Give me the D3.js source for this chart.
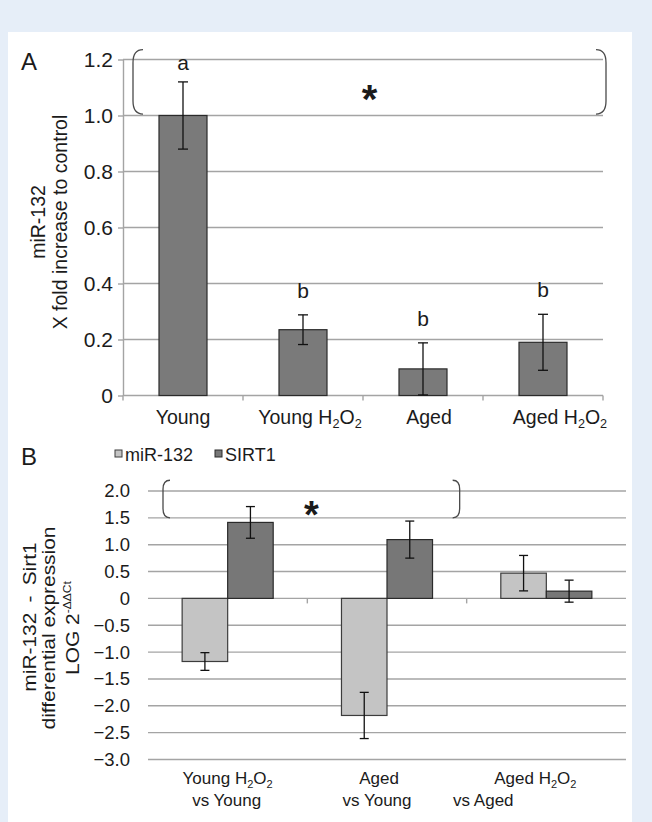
<!DOCTYPE html>
<html>
<head>
<meta charset="utf-8">
<script src="https://cdn.jsdelivr.net/npm/d3@7"></script>
<style>
	html, body { margin: 0; padding: 0; background: #e6eef8; }
	svg { display: block; }
	text { font-family: "Liberation Sans", Arial, sans-serif; fill: #1b1b1b; }
</style>
</head>
<body>
<svg id="fig" width="652" height="822"></svg>
<script>
// panel A
var catsA = ["Young", "Young H2O2", "Aged", "Aged H2O2"];
var meanA = [1.0, 0.235, 0.095, 0.19];
var errA = [0.12, 0.053, 0.093, 0.10];
var lettersA = ["a", "b", "b", "b"];
var ticksA = [0, 0.2, 0.4, 0.6, 0.8, 1.0, 1.2];

// panel B
var seriesB = ["miR-132", "SIRT1"];
var catsB = [["Young H2O2", "vs Young"], ["Aged", "vs Young"], ["Aged H2O2", "vs Aged"]];
var mirB = [-1.175, -2.18, 0.47];
var mirErrB = [0.165, 0.43, 0.33];
var sirtB = [1.415, 1.095, 0.135];
var sirtErrB = [0.295, 0.345, 0.205];
var ticksB = [-3, -2.5, -2, -1.5, -1, -0.5, 0, 0.5, 1, 1.5, 2];

var gridCol = "#a4a4a4";
var labelNudgeA = [0, 7, 6, 17];
var labelNudgeB = [[0, -1], [-8, -10], [-11, -63]];

var svg = d3.select("#fig");
svg.append("rect")
	.attr("x", 8).attr("y", 32)
	.attr("width", 624).attr("height", 790)
	.attr("fill", "#fff");

// digits after H / O become subscripts
var addRich = function(textSel, str, size) {
	var runs = [], cur = null;
	for (var i = 0; i < str.length; i++) {
		var sub = /\d/.test(str[i]) && i > 0 && /[HO]/.test(str[i - 1]);
		if (!cur || cur.sub !== sub) { cur = {sub: sub, t: ""}; runs.push(cur); }
		cur.t += str[i];
	}
	var shift = 0;
	runs.forEach(function(r) {
		var ts = textSel.append("tspan").text(r.t);
		if (r.sub) {
			shift = size * 0.22;
			ts.attr("font-size", size * 0.65).attr("dy", shift);
		} else if (shift) {
			ts.attr("dy", -shift);
			shift = 0;
		}
	});
};

var bracket = function(g, x0, x1, yTop, yBot, rx, ry) {
	var p = "M" + (x0 + rx) + "," + yTop + " Q" + x0 + "," + yTop + " " + x0 + "," + (yTop + ry)
		+ " L" + x0 + "," + (yBot - ry) + " Q" + x0 + "," + yBot + " " + (x0 + rx) + "," + yBot
		+ " M" + (x1 - rx) + "," + yTop + " Q" + x1 + "," + yTop + " " + x1 + "," + (yTop + ry)
		+ " L" + x1 + "," + (yBot - ry) + " Q" + x1 + "," + yBot + " " + (x1 - rx) + "," + yBot;
	g.append("path").attr("d", p)
		.attr("fill", "none").attr("stroke", "#4a4a4a").attr("stroke-width", 1.3);
};

var errBars = function(g, xs, means, errs, y, cap) {
	var eb = g.selectAll(null).data(means).enter().append("g");
	eb.append("line")
		.attr("x1", function(d, i) { return xs[i]; })
		.attr("x2", function(d, i) { return xs[i]; })
		.attr("y1", function(d, i) { return y(d - errs[i]); })
		.attr("y2", function(d, i) { return y(d + errs[i]); });
	eb.append("line")
		.attr("x1", function(d, i) { return xs[i] - cap; })
		.attr("x2", function(d, i) { return xs[i] + cap; })
		.attr("y1", function(d, i) { return y(d + errs[i]); })
		.attr("y2", function(d, i) { return y(d + errs[i]); });
	eb.append("line")
		.attr("x1", function(d, i) { return xs[i] - cap; })
		.attr("x2", function(d, i) { return xs[i] + cap; })
		.attr("y1", function(d, i) { return y(d - errs[i]); })
		.attr("y2", function(d, i) { return y(d - errs[i]); });
	eb.selectAll("line").attr("stroke", "#111").attr("stroke-width", 1.3);
};

// ---------- panel A ----------
var xA = d3.scaleBand().domain(catsA).range([123, 603]).paddingInner(0.6).paddingOuter(0.3);
var yA = d3.scaleLinear().domain([0, 1.2]).range([395.5, 59.5]);
var gA = svg.append("g");

gA.selectAll(".gridA")
	.data(ticksA)
	.enter()
	.append("line")
	.attr("x1", 123).attr("x2", 603)
	.attr("y1", function(d) { return yA(d); })
	.attr("y2", function(d) { return yA(d); })
	.attr("stroke", gridCol).attr("stroke-width", 1.4);

var axA = gA.append("g")
	.attr("transform", "translate(123,0)")
	.call(d3.axisLeft(yA).tickValues(ticksA).tickSizeInner(5).tickSizeOuter(0).tickPadding(5)
		.tickFormat(function(d) { return d === 0 ? "0" : d3.format(".1f")(d); }));
axA.select(".domain").attr("stroke", gridCol).attr("stroke-width", 1.4);
axA.selectAll(".tick line").attr("stroke", gridCol).attr("stroke-width", 1.4);
axA.selectAll(".tick text").attr("font-size", 21).attr("fill", "#1b1b1b")
	.attr("font-family", "Liberation Sans, Arial, sans-serif");

// small ticks on the category axis, at band edges
var edgeA = catsA.map(function(c) { return xA(c) - (xA.step() - xA.bandwidth()) / 2; });
edgeA.push(603);
gA.selectAll(".edgeA")
	.data(edgeA)
	.enter()
	.append("line")
	.attr("x1", function(d) { return d; }).attr("x2", function(d) { return d; })
	.attr("y1", yA(0)).attr("y2", yA(0) + 5)
	.attr("stroke", gridCol).attr("stroke-width", 1.4);

gA.selectAll(".barA")
	.data(meanA)
	.enter()
	.append("rect")
	.attr("x", function(d, i) { return xA(catsA[i]); })
	.attr("y", function(d) { return yA(d); })
	.attr("width", xA.bandwidth())
	.attr("height", function(d) { return yA(0) - yA(d); })
	.attr("fill", "#7a7a7a")
	.attr("stroke", "#2a2a2a").attr("stroke-width", 1.2);

var cxA = catsA.map(function(c) { return xA(c) + xA.bandwidth() / 2; });
errBars(gA, cxA, meanA, errA, yA, 5);

gA.selectAll(".letterA")
	.data(lettersA)
	.enter()
	.append("text")
	.attr("x", function(d, i) { return cxA[i]; })
	.attr("y", function(d, i) { return Math.max(yA(meanA[i] + errA[i]) - 17, yA(1.2) + 10); })
	.attr("text-anchor", "middle")
	.attr("font-size", 21)
	.text(function(d) { return d; });

catsA.forEach(function(c, i) {
	var t = gA.append("text")
		.attr("x", cxA[i] + labelNudgeA[i])
		.attr("y", 424)
		.attr("text-anchor", "middle")
		.attr("font-size", 19.5);
	addRich(t, c, 19.5);
});

var bxA0 = xA.range()[0] + 10, bxA1 = xA.range()[1] + 3;
bracket(gA, bxA0, bxA1, yA(1.235), yA(1.005), 10, 13);
gA.append("text")
	.attr("x", (bxA0 + bxA1) / 2).attr("y", 113)
	.attr("text-anchor", "middle")
	.attr("font-size", 40).attr("font-weight", "bold")
	.text("*");

gA.append("text").attr("x", 21).attr("y", 70).attr("font-size", 24).text("A");

gA.append("text")
	.attr("transform", "translate(45,222) rotate(-90)")
	.attr("text-anchor", "middle").attr("font-size", 19.5)
	.text("miR-132");
gA.append("text")
	.attr("transform", "translate(67,222) rotate(-90)")
	.attr("text-anchor", "middle").attr("font-size", 19.5)
	.text("X fold increase to control");

// ---------- panel B ----------
var xB = d3.scaleBand().domain(d3.range(catsB.length)).range([148, 626]);
var x1 = d3.scaleBand().domain(seriesB).range([0, xB.bandwidth()]).paddingInner(0).paddingOuter(0.75);
var yB = d3.scaleLinear().domain([-3, 2]).range([759.5, 491]);
var gB = svg.append("g");

gB.selectAll(".gridB")
	.data(ticksB)
	.enter()
	.append("line")
	.attr("x1", 148).attr("x2", 626)
	.attr("y1", function(d) { return yB(d); })
	.attr("y2", function(d) { return yB(d); })
	.attr("stroke", gridCol).attr("stroke-width", 1.4);

var axB = gB.append("g")
	.attr("transform", "translate(148,0)")
	.call(d3.axisLeft(yB).tickValues(ticksB).tickSize(0).tickPadding(18)
		.tickFormat(function(d) { return d === 0 ? "0" : d3.format(".1f")(d); }));
axB.select(".domain").remove();
axB.selectAll(".tick text").attr("font-size", 18.5).attr("fill", "#1b1b1b")
	.attr("font-family", "Liberation Sans, Arial, sans-serif");

gB.selectAll(".edgeB")
	.data([1, 2])
	.enter()
	.append("line")
	.attr("x1", function(d) { return xB(d); }).attr("x2", function(d) { return xB(d); })
	.attr("y1", yB(0)).attr("y2", yB(0) + 5)
	.attr("stroke", gridCol).attr("stroke-width", 1.4);

var seriesData = [
	{name: "miR-132", vals: mirB, errs: mirErrB, fill: "#c4c4c4", stroke: "#3c3c3c"},
	{name: "SIRT1", vals: sirtB, errs: sirtErrB, fill: "#777777", stroke: "#2a2a2a"}
];

seriesData.forEach(function(s) {
	gB.selectAll(null)
		.data(s.vals)
		.enter()
		.append("rect")
		.attr("x", function(d, i) { return xB(i) + x1(s.name); })
		.attr("y", function(d) { return yB(Math.max(0, d)); })
		.attr("width", x1.bandwidth())
		.attr("height", function(d) { return Math.abs(yB(d) - yB(0)); })
		.attr("fill", s.fill)
		.attr("stroke", s.stroke).attr("stroke-width", 1.2);
});
seriesData.forEach(function(s) {
	var xs = s.vals.map(function(d, i) { return xB(i) + x1(s.name) + x1.bandwidth() / 2; });
	errBars(gB, xs, s.vals, s.errs, yB, 4.5);
});

catsB.forEach(function(lines, i) {
	var cx = xB(i) + xB.bandwidth() / 2;
	lines.forEach(function(ln, j) {
		var t = gB.append("text")
			.attr("x", cx + labelNudgeB[i][j])
			.attr("y", 784 + j * 22)
			.attr("text-anchor", "middle")
			.attr("font-size", 17);
		addRich(t, ln, 17);
	});
});

var bxB0 = xB(0) + 15, bxB1 = xB(2) - 7;
bracket(gB, bxB0, bxB1, yB(2.2), yB(1.5), 7, 9);
gB.append("text")
	.attr("x", (bxB0 + bxB1) / 2).attr("y", 528)
	.attr("text-anchor", "middle")
	.attr("font-size", 38).attr("font-weight", "bold")
	.text("*");

// legend
var legX = [115, 215];
seriesData.forEach(function(s, i) {
	gB.append("rect")
		.attr("x", legX[i]).attr("y", 450)
		.attr("width", 7).attr("height", 7)
		.attr("fill", s.fill).attr("stroke", s.stroke).attr("stroke-width", 1);
	gB.append("text")
		.attr("x", legX[i] + 10).attr("y", 461)
		.attr("font-size", 18)
		.text(s.name);
});

gB.append("text").attr("x", 21).attr("y", 465).attr("font-size", 24).text("B");

var titleB = ["miR-132 - Sirt1", "differential expression"];
titleB.forEach(function(t, i) {
	gB.append("text")
		.attr("transform", "translate(" + [36, 55][i] + "," + [617, 628][i] + ") rotate(-90) scale(1.1,1)")
		.attr("text-anchor", "middle").attr("font-size", 19)
		.attr("word-spacing", i === 0 ? 4 : 0)
		.text(t);
});
var logT = gB.append("text")
	.attr("transform", "translate(79,628) rotate(-90) scale(1.1,1)")
	.attr("text-anchor", "middle").attr("font-size", 19);
logT.append("tspan").text("LOG 2");
logT.append("tspan").attr("font-size", 11).attr("dy", -8).text("-\u0394\u0394Ct");
</script>
</body>
</html>
